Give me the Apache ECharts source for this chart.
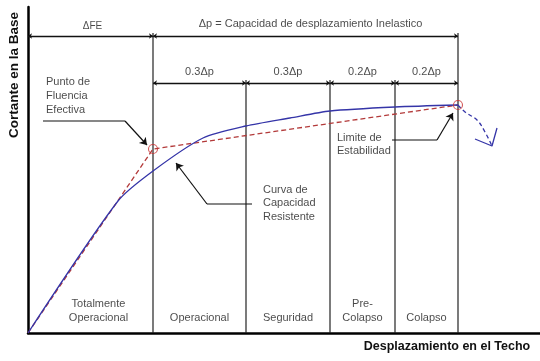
<!DOCTYPE html>
<html><head><meta charset="utf-8">
<script src="https://cdn.jsdelivr.net/npm/echarts@6/dist/echarts.min.js"></script>
<style>html,body{margin:0;padding:0;background:#fff}#c{width:540px;height:361px}</style>
</head><body><div id="c"></div>
<script>
// Schematic units: displacement (x) and base shear (y)
const boundaries = [0, 125, 218, 302, 367, 430];           // origin, yield (Δy), 0.3, 0.6, 0.8, 1.0 Δp
const capacityX = [0, 90, 125, 175, 218, 262, 302, 367, 430];
const capacityY = [0, 132, 162, 195, 207, 215, 222, 226, 228];
const bilinearX = [0, 125, 430];
const bilinearY = [0, 184, 228];
const degradeX = [430, 437, 449, 457, 464];
const degradeY = [228, 221, 213, 201, 187];
const arrowWingX = [447, 464, 469];
const arrowWingY = [194, 187, 205];
const segmentLabels = ['0.3Δp', '0.3Δp', '0.2Δp', '0.2Δp'];
const levelLabels = ['Totalmente\nOperacional', 'Operacional', 'Seguridad', 'Pre-\nColapso', 'Colapso'];
const topLabels = ['ΔFE', 'Δp = Capacidad de desplazamiento Inelastico'];
const yTitle = 'Cortante en la Base';
const xTitle = 'Desplazamiento en el Techo';

const FONT = '"Liberation Sans", Arial, sans-serif';
const TXT = '#1a1a1a';
const zip = (xs, ys) => xs.map((x, i) => [x, ys[i]]);

const yieldX = boundaries[1], endX = boundaries[5];
const dimTop = 297, dimSub = 250, vTop = 300, vSub = 253;

// vertical lines
const verticals = [];
boundaries.slice(1).forEach((b, i) => {
  const top = (i === 0 || i === 4) ? vTop : vSub;
  verticals.push([b, 0], [b, top], [null, null]);
});

// dimension lines
const dimLines = [
  { coords: [[0, dimTop], [yieldX, dimTop]] },
  { coords: [[yieldX, dimTop], [endX, dimTop]] }
];
for (let i = 1; i < 5; i++) dimLines.push({ coords: [[boundaries[i], dimSub], [boundaries[i + 1], dimSub]] });

// leaders
const leaderPlain = [
  [15, 212], [97, 212], [null, null],
  [224, 129], [179, 129], [null, null],
  [364, 193], [409, 193]
];
const leaderArrows = [
  { coords: [[97, 212], [119, 188]] },
  { coords: [[179, 129], [148, 170]] },
  { coords: [[409, 193], [425, 220]] }
];

function txt(x, y, text, opt) {
  return { value: [x, y], label: Object.assign({ show: true, formatter: text, color: TXT, fontFamily: FONT, fontSize: 11, lineHeight: 13.5, position: 'inside', align: 'center', verticalAlign: 'middle' }, opt || {}) };
}
const texts = [];
texts.push(txt((0 + yieldX) / 2 + 2, 307, topLabels[0], { fontSize: 10 }));
texts.push(txt((yieldX + endX) / 2 + 5, 309, topLabels[1], { fontSize: 11 }));
segmentLabels.forEach((s, i) => texts.push(txt((boundaries[i + 1] + boundaries[i + 2]) / 2, 261, s)));
levelLabels.forEach((s, i) => texts.push(txt((boundaries[i] + boundaries[i + 1]) / 2 + (i === 0 ? 8 : 0), 8.5, s, { verticalAlign: 'bottom' })));
texts.push(txt(18, 258, 'Punto de\nFluencia\nEfectiva', { align: 'left', verticalAlign: 'top', lineHeight: 13.8 }));
texts.push(txt(235, 150, 'Curva de\nCapacidad\nResistente', { align: 'left', verticalAlign: 'top' }));
texts.push(txt(309, 202, 'Limite de\nEstabilidad', { align: 'left', verticalAlign: 'top' }));

const chart = echarts.init(document.getElementById('c'), null, { renderer: 'canvas' });
chart.setOption({
  animation: false,
  backgroundColor: '#fff',
  grid: { left: 28, right: 0, top: 7, bottom: 28 },
  xAxis: { type: 'value', min: 0, max: 512, axisLine: { show: true, onZero: false, lineStyle: { color: '#000', width: 2.5 } }, axisTick: { show: false }, axisLabel: { show: false }, splitLine: { show: false } },
  yAxis: { type: 'value', min: 0, max: 326, axisLine: { show: true, onZero: false, lineStyle: { color: '#000', width: 2.5 } }, axisTick: { show: false }, axisLabel: { show: false }, splitLine: { show: false } },
  graphic: [
    { type: 'text', x: 14, y: 75, rotation: Math.PI / 2, style: { text: yTitle, font: 'bold 13.5px ' + FONT, fill: '#111', align: 'center', verticalAlign: 'middle' } },
    { type: 'text', x: 447, y: 347, style: { text: xTitle, font: 'bold 12.5px ' + FONT, fill: '#111', align: 'center', verticalAlign: 'middle' } }
  ],
  series: [
    { type: 'line', data: verticals, showSymbol: false, connectNulls: false, lineStyle: { color: '#222', width: 1.2 }, silent: true },
    { type: 'lines', coordinateSystem: 'cartesian2d', data: dimLines, symbol: ['arrow', 'arrow'], symbolSize: 4, lineStyle: { color: '#111', width: 1.3, opacity: 1 }, silent: true },
    { type: 'line', data: leaderPlain, showSymbol: false, connectNulls: false, lineStyle: { color: '#111', width: 1.2 }, silent: true },
    { type: 'lines', coordinateSystem: 'cartesian2d', data: leaderArrows, symbol: ['none', 'arrow'], symbolSize: 7, lineStyle: { color: '#111', width: 1.2, opacity: 1 }, silent: true },
    { type: 'line', data: zip(bilinearX, bilinearY), showSymbol: false, lineStyle: { color: '#b33a3a', width: 1.3, type: [5, 3] }, z: 3 },
    { type: 'line', data: zip(capacityX, capacityY), showSymbol: false, smooth: 0.25, lineStyle: { color: '#3535a8', width: 1.3 }, z: 4 },
    { type: 'line', data: zip(degradeX, degradeY), showSymbol: false, smooth: 0.4, lineStyle: { color: '#3535a8', width: 1.3, type: [4, 3] }, z: 4 },
    { type: 'line', data: zip(arrowWingX, arrowWingY), showSymbol: false, lineStyle: { color: '#3535a8', width: 1.3 }, z: 4 },
    { type: 'scatter', data: [[yieldX, bilinearY[1]], [endX, bilinearY[2]]], symbol: 'circle', symbolSize: 9, itemStyle: { color: 'rgba(0,0,0,0)', borderColor: '#c83030', borderWidth: 1.1 }, z: 5 },
    { type: 'scatter', data: texts, symbolSize: 1, itemStyle: { color: 'rgba(0,0,0,0)' }, z: 6, silent: true }
  ]
});
</script></body></html>
